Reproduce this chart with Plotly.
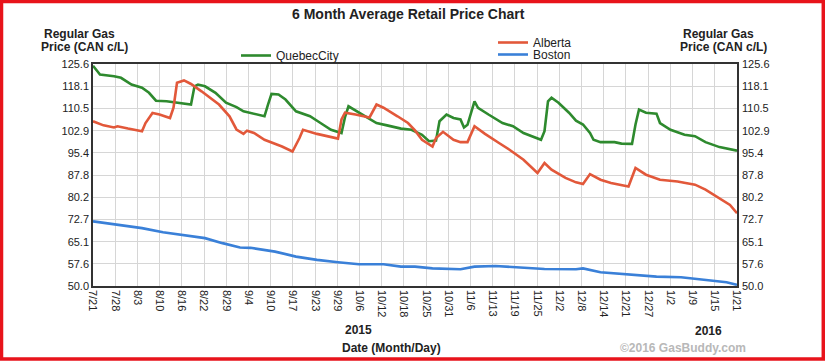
import plotly.graph_objects as go
import pandas as pd

FONT = "Liberation Sans, Arial, sans-serif"

# ---------------- data ----------------
quebec_dates = ["2015-07-21","2015-07-23","2015-07-27","2015-07-29","2015-08-01","2015-08-04","2015-08-06","2015-08-08",
                "2015-08-11","2015-08-14","2015-08-18","2015-08-19","2015-08-20","2015-08-22","2015-08-25","2015-08-28",
                "2015-08-31","2015-09-02","2015-09-05","2015-09-08","2015-09-09","2015-09-10","2015-09-12","2015-09-14",
                "2015-09-17","2015-09-21","2015-09-24","2015-09-27","2015-09-30","2015-10-01","2015-10-02","2015-10-05",
                "2015-10-07","2015-10-10","2015-10-13","2015-10-17","2015-10-20","2015-10-23","2015-10-25","2015-10-27",
                "2015-10-28","2015-10-30","2015-11-01","2015-11-03","2015-11-04","2015-11-05","2015-11-07","2015-11-08",
                "2015-11-11","2015-11-15","2015-11-18","2015-11-21","2015-11-26","2015-11-27","2015-11-28","2015-11-29",
                "2015-12-01","2015-12-04","2015-12-06","2015-12-08","2015-12-10","2015-12-11","2015-12-13","2015-12-17",
                "2015-12-19","2015-12-22","2015-12-23","2015-12-24","2015-12-26","2015-12-29","2015-12-30","2016-01-02",
                "2016-01-06","2016-01-09","2016-01-12","2016-01-16","2016-01-21"]
quebec_values = [125.0,122.0,121.4,120.9,118.6,117.5,115.8,113.1,
                 112.9,112.4,111.8,118.0,118.6,118.0,115.8,112.4,
                 110.9,109.5,108.6,107.8,111.8,115.4,115.2,113.5,
                 109.5,107.8,105.5,103.2,102.1,107.5,111.2,109.0,
                 107.8,105.5,104.7,103.6,103.2,101.5,99.3,99.5,
                 106.1,108.4,107.2,106.7,104.0,104.9,112.9,110.7,
                 108.4,105.5,104.4,102.1,99.8,102.7,112.9,114.1,
                 112.4,109.0,106.3,105.0,102.1,99.8,99.0,99.0,
                 98.5,98.4,105.0,110.1,109.0,108.7,105.5,103.2,
                 101.5,101.0,99.0,97.3,96.1]

alberta_dates = ["2015-07-21","2015-07-24","2015-07-27","2015-07-28","2015-07-31","2015-08-04","2015-08-05","2015-08-07",
                 "2015-08-09","2015-08-12","2015-08-13","2015-08-14","2015-08-16","2015-08-18","2015-08-21","2015-08-24",
                 "2015-08-26","2015-08-29","2015-08-31","2015-09-02","2015-09-03","2015-09-05","2015-09-08","2015-09-13",
                 "2015-09-16","2015-09-18","2015-09-19","2015-09-23","2015-09-29","2015-09-30","2015-10-01","2015-10-04",
                 "2015-10-08","2015-10-10","2015-10-12","2015-10-16","2015-10-19","2015-10-21","2015-10-23","2015-10-26",
                 "2015-10-27","2015-10-29","2015-11-01","2015-11-03","2015-11-05","2015-11-07","2015-11-10","2015-11-14",
                 "2015-11-17","2015-11-21","2015-11-25","2015-11-27","2015-11-29","2015-12-03","2015-12-06","2015-12-08",
                 "2015-12-10","2015-12-13","2015-12-16","2015-12-21","2015-12-23","2015-12-26","2015-12-30","2016-01-04",
                 "2016-01-09","2016-01-12","2016-01-16","2016-01-19","2016-01-21"]
alberta_values = [106.1,104.7,104.0,104.4,103.6,102.7,105.5,108.9,
                  108.4,107.2,110.7,119.2,120.0,118.8,116.3,113.5,
                  111.8,107.8,103.3,101.8,102.9,102.1,99.8,97.5,
                  95.8,100.4,103.2,101.8,100.2,106.7,109.0,108.4,
                  107.4,111.8,110.7,107.8,105.5,103.0,99.8,97.5,
                  100.4,102.5,99.8,99.0,99.0,104.4,101.8,98.7,
                  96.4,93.0,88.5,91.9,89.6,86.8,85.3,84.7,
                  88.1,86.2,85.1,83.9,90.2,87.9,86.2,85.6,
                  84.5,82.8,79.9,77.6,74.8]

boston_dates = ["2015-07-21","2015-07-28","2015-08-04","2015-08-10","2015-08-17","2015-08-22","2015-08-27","2015-09-01",
                "2015-09-04","2015-09-11","2015-09-17","2015-09-23","2015-09-29","2015-10-05","2015-10-12","2015-10-17",
                "2015-10-21","2015-10-26","2015-11-03","2015-11-07","2015-11-13","2015-11-20","2015-11-27","2015-12-06",
                "2015-12-08","2015-12-13","2015-12-23","2015-12-29","2016-01-05","2016-01-12","2016-01-18","2016-01-21"]
boston_values = [72.0,70.8,69.7,68.3,67.1,66.3,64.6,63.1,
                 63.0,61.7,60.0,58.9,58.1,57.4,57.4,56.6,
                 56.6,56.0,55.7,56.6,56.8,56.3,55.8,55.7,
                 56.0,54.7,53.8,53.2,53.0,52.1,51.3,50.4]

x_tick_labels = ["7/21","7/28","8/3","8/10","8/16","8/22","8/29","9/4","9/10","9/17","9/23","9/29",
                 "10/6","10/12","10/18","10/25","10/31","11/6","11/13","11/19","11/25","12/2","12/8",
                 "12/14","12/21","12/27","1/2","1/9","1/15","1/21"]
y_tick_labels = ["50.0","57.6","65.1","72.7","80.2","87.8","95.4","102.9","110.5","118.1","125.6"]

start_date = "2015-07-21"
end_date = "2016-01-21"

# ---------------- figure ----------------
start = pd.Timestamp(start_date)
span_days = (pd.Timestamp(end_date) - start).days
n = len(x_tick_labels) - 1
x_tick_vals = [(start + pd.Timedelta(days=span_days * i / n)).strftime("%Y-%m-%d %H:%M:%S") for i in range(n + 1)]
y_tick_vals = [float(v) for v in y_tick_labels]

GREEN = "#2e8a2e"
RED = "#e2583a"
BLUE = "#3a80d8"

fig = go.Figure()
fig.add_trace(go.Scatter(x=quebec_dates, y=quebec_values, mode="lines", name="QuebecCity",
                         line=dict(color=GREEN, width=2.6), legend="legend"))
fig.add_trace(go.Scatter(x=alberta_dates, y=alberta_values, mode="lines", name="Alberta",
                         line=dict(color=RED, width=2.6), legend="legend2"))
fig.add_trace(go.Scatter(x=boston_dates, y=boston_values, mode="lines", name="Boston",
                         line=dict(color=BLUE, width=2.6), legend="legend3"))
# helper (invisible) trace so the right-hand price axis is drawn
fig.add_trace(go.Scatter(x=[start_date, end_date], y=[None, None], yaxis="y2", mode="lines",
                         showlegend=False, hoverinfo="skip", line=dict(width=0)))

L, R, T, B = 93, 88, 64, 75
W, H = 825, 361
PW, PH = W - L - R, H - T - B

def px(x):
    return (x - L) / PW

def py(y):
    return (H - B - y) / PH

axis_font = dict(family=FONT, size=11, color="#222")
leg_font = dict(family=FONT, size=12, color="#222")

fig.update_layout(
    width=W, height=H,
    margin=dict(l=L, r=R, t=T, b=B, autoexpand=False),
    paper_bgcolor="white", plot_bgcolor="white",
    font=dict(family=FONT, size=11, color="#222"),
    xaxis=dict(type="date", range=[start_date, end_date], tickvals=x_tick_vals, ticktext=x_tick_labels,
               tickangle=90, tickfont=axis_font, showgrid=True, gridcolor="#d6d6d6", gridwidth=1,
               showline=True, linecolor="#333", linewidth=1.5, mirror=True, ticks="", zeroline=False,
               automargin=False),
    yaxis=dict(range=[50, 125.6], tickvals=y_tick_vals, ticktext=y_tick_labels, tickfont=axis_font,
               showgrid=True, gridcolor="#d6d6d6", gridwidth=1, showline=True, linecolor="#333",
               linewidth=1.5, mirror=True, ticks="", zeroline=False, automargin=False),
    yaxis2=dict(range=[50, 125.6], tickvals=y_tick_vals, ticktext=y_tick_labels, tickfont=axis_font,
                overlaying="y", side="right", showgrid=False, showline=False, ticks="", zeroline=False,
                automargin=False, ticklabelstandoff=4),
    legend=dict(x=px(236), y=py(41), xanchor="left", yanchor="top", bgcolor="rgba(0,0,0,0)", font=leg_font),
    legend2=dict(x=px(493), y=py(28), xanchor="left", yanchor="top", bgcolor="rgba(0,0,0,0)", font=leg_font),
    legend3=dict(x=px(493), y=py(40), xanchor="left", yanchor="top", bgcolor="rgba(0,0,0,0)", font=leg_font),
    showlegend=True,
)

bold = dict(family=FONT, size=12, color="#222")
annots = [
    ("<b>6 Month Average Retail Price Chart</b>", 408, 14, dict(family=FONT, size=14, color="#222")),
    ("<b>Regular Gas</b>", 79, 34, bold),
    ("<b>Price (CAN c/L)</b>", 84, 47, bold),
    ("<b>Regular Gas</b>", 718, 34, bold),
    ("<b>Price (CAN c/L)</b>", 723, 47, bold),
    ("<b>2015</b>", 358, 330, bold),
    ("<b>2016</b>", 708, 331, bold),
    ("<b>Date (Month/Day)</b>", 391, 348, bold),
    ("<b>©2016 GasBuddy.com</b>", 683, 348, dict(family=FONT, size=12, color="#b8b8b8")),
]
for text, x, y, f in annots:
    fig.add_annotation(text=text, x=px(x), y=py(y), xref="paper", yref="paper",
                       xanchor="center", yanchor="middle", showarrow=False, font=f)

fig.add_shape(type="rect", xref="paper", yref="paper",
              x0=px(1.5), x1=px(823.3), y0=py(359), y1=py(1.5),
              line=dict(color="#e8131b", width=3.5), fillcolor="rgba(0,0,0,0)", layer="above")

fig.write_html("out.html", config={"displayModeBar": False},
               post_script="document.body.style.margin='0';document.body.style.overflow='hidden';")
